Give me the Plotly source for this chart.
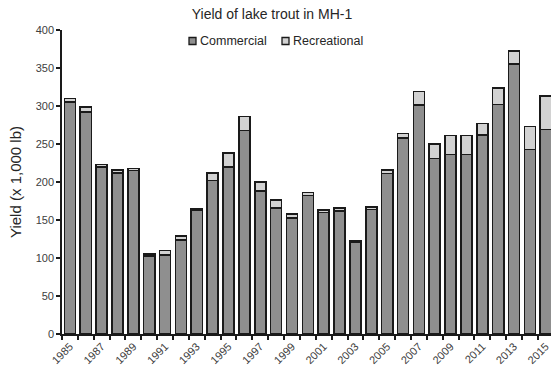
import plotly.graph_objects as go

years = list(range(1985, 2016))
commercial = [305, 292, 220, 212, 215, 103, 104, 124, 163, 202,
              220, 268, 188, 166, 153, 182, 160, 162, 121, 164,
              211, 258, 301, 231, 236, 236, 262, 302, 355, 243, 269]
recreational = [5, 7, 3, 4, 3, 2, 6, 5, 2, 10,
                18, 18, 12, 10, 5, 4, 3, 4, 1.5, 3,
                5, 6, 18, 19, 25, 25, 15, 22, 17, 30, 44]
label_years = [str(y) for y in years[::2]]
series_names = ["Commercial", "Recreational"]
series_colors = ["#8f8f8f", "#d2d2d2"]

W, H = 551, 366
M = dict(l=62, r=0, t=30, b=32)
font_family = "Liberation Sans, Arial, sans-serif"
edge = "#1a1a1a"
outline = dict(color=edge, width=1.6)


def px_x(px):
    # pixel column -> paper x
    return (px - M["l"]) / (W - M["l"] - M["r"])


def px_y(py):
    # pixel row (from top) -> paper y
    return 1 - (py - M["t"]) / (H - M["t"] - M["b"])


fig = go.Figure()
for name, vals, col in zip(series_names, [commercial, recreational], series_colors):
    fig.add_trace(go.Bar(x=years, y=vals, name=name,
                         marker=dict(color=col, line=outline)))

# compact legend: small boxed swatch followed by the series name
legend_items = [(189, 199), (282, 292)]
for (sx, tx), name, col in zip(legend_items, series_names, series_colors):
    fig.add_shape(type="rect", xref="paper", yref="paper",
                  x0=px_x(sx), x1=px_x(sx + 7), y0=px_y(44.5), y1=px_y(37.5),
                  fillcolor=col, line=dict(color=edge, width=1.3))
    fig.add_annotation(text=name, xref="paper", yref="paper",
                       x=px_x(tx - 1), y=px_y(41), xanchor="left", yanchor="middle",
                       showarrow=False, font=dict(size=12.5, color="#262626"))

fig.update_layout(
    width=W, height=H,
    barmode="stack", bargap=0.3,
    paper_bgcolor="white", plot_bgcolor="white",
    margin=M,
    font=dict(family=font_family, size=11, color="#404040"),
    title=dict(text="Yield of lake trout in MH-1", x=272 / W, xanchor="center",
               y=1 - 14 / H, yanchor="middle",
               font=dict(size=14, color="#262626")),
    showlegend=False,
)

fig.update_xaxes(
    range=[1984.5, 2015.33], automargin=False,
    tickmode="array", tickvals=years[::2], ticktext=label_years,
    tickangle=-45, ticks="", showgrid=False, zeroline=False,
    ticklabeloverflow="allow", ticklabelstandoff=0,
    showline=True, linecolor=edge, linewidth=1.6,
    tickfont=dict(size=11, color="#404040"),
    minor=dict(ticks="outside", tick0=1984.5, dtick=1, ticklen=4,
               tickcolor=edge, tickwidth=1.5, showgrid=False),
)
fig.update_yaxes(
    range=[0, 400], dtick=50, ticks="outside", ticklen=4,
    tickcolor=edge, tickwidth=1.5, automargin=False,
    showgrid=False, zeroline=False,
    showline=True, linecolor=edge, linewidth=1.6,
    tickfont=dict(size=11, color="#404040"),
    title=dict(text="Yield (x 1,000 lb)", font=dict(size=15, color="#262626"), standoff=10),
)

fig.write_html("out.html")
